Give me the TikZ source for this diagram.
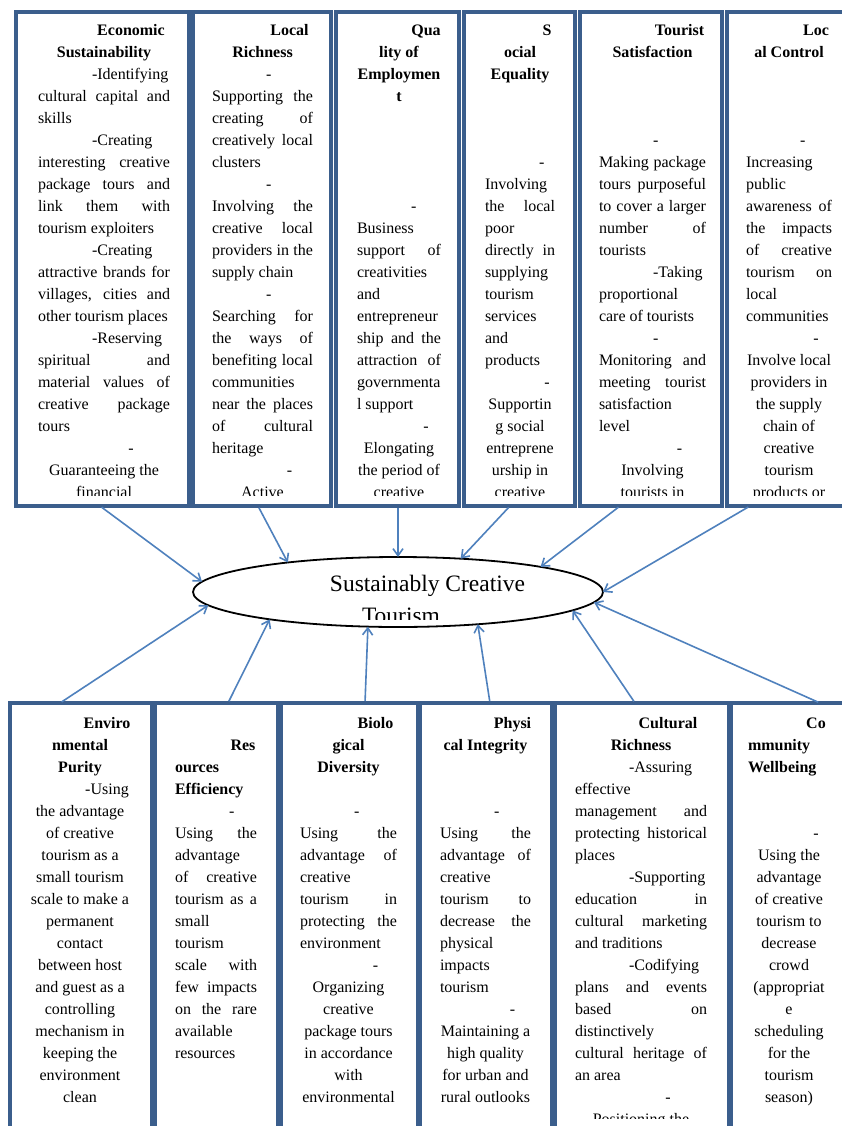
\documentclass[tikz,border=0pt]{standalone}
\usepackage{fontspec}
\setmainfont{Liberation Serif}
\usetikzlibrary{arrows.meta,shapes.geometric}
\definecolor{boxblue}{RGB}{59,94,140}
\definecolor{arrblue}{RGB}{79,129,189}
\newlength\indw \setlength\indw{54pt}
\newcommand\tJ[1]{\makebox[\linewidth][s]{#1}\par}
\newcommand\tL[1]{\makebox[\linewidth][l]{#1}\par}
\newcommand\tC[1]{\makebox[\linewidth][c]{#1}\par}
\newcommand\tI[1]{\makebox[\linewidth][l]{\hspace*{\indw}#1}\par}
\newcommand\tH[1]{\makebox[\linewidth][l]{\hspace*{\indw}\makebox[\dimexpr\linewidth-\indw\relax][c]{#1}}\par}
\newcommand\tE{\mbox{}\par}
\newcommand\coltext[5]{\node[coltxt] (#1) at (#2,#3) {\parbox[t]{#4pt}{\fontsize{16}{22}\selectfont #5}};}
\begin{document}
\begin{tikzpicture}[x=1pt,y=-1pt,
  box/.style={draw=boxblue, line width=3.5pt, fill=white, rectangle, inner sep=0pt, outer sep=0pt, anchor=north west},
  coltxt/.style={anchor=base west, inner sep=0pt, outer sep=0pt},
  arr/.style={draw=arrblue, line width=1.6pt, -{Straight Barb[length=7pt,width=10pt]}, shorten <=2pt}]
\useasboundingbox (0,0) rectangle (841,1126);
\fill[white] (0,0) rectangle (841,1126);

% ---------- top boxes ----------
\node[box, minimum width=173pt, minimum height=494pt] (econ) at (16,12) {};
\node[box, minimum width=138pt, minimum height=494pt] (localr) at (193,12) {};
\node[box, minimum width=123pt, minimum height=494pt] (qual) at (336,12) {};
\node[box, minimum width=111pt, minimum height=494pt] (social) at (464,12) {};
\node[box, minimum width=142pt, minimum height=494pt] (tourist) at (580,12) {};
\node[box, minimum width=130pt, minimum height=494pt] (localc) at (727,12) {};

% ---------- bottom boxes ----------
\node[box, minimum width=142pt, minimum height=440pt] (env) at (10,703) {};
\node[box, minimum width=123pt, minimum height=440pt] (res) at (155,703) {};
\node[box, minimum width=137pt, minimum height=440pt] (bio) at (281,703) {};
\node[box, minimum width=132pt, minimum height=440pt] (phys) at (420,703) {};
\node[box, minimum width=174pt, minimum height=440pt] (cult) at (555,703) {};
\node[box, minimum width=130pt, minimum height=440pt] (comm) at (731,703) {};

% ---------- top texts ----------
\begin{scope}\clip (18,14) rectangle (187,495);
\coltext{t1}{38}{36}{132}{%
\tH{\textbf{Economic}}\tC{\textbf{Sustainability}}
\tI{-Identifying}\tJ{cultural capital and}\tL{skills}
\tI{-Creating}\tJ{interesting creative}\tJ{package tours and}\tJ{link them with}\tL{tourism exploiters}
\tI{-Creating}\tJ{attractive brands for}\tJ{villages, cities and}\tL{other tourism places}
\tI{-Reserving}\tJ{spiritual and}\tJ{material values of}\tJ{creative package}\tL{tours}
\tH{-}\tC{Guaranteeing the}\tC{financial}}
\end{scope}
\begin{scope}\clip (195,14) rectangle (329,495);
\coltext{t2}{212}{36}{101}{%
\tH{\textbf{Local}}\tC{\textbf{Richness}}
\tI{-}\tJ{Supporting the}\tJ{creating of}\tJ{creatively local}\tL{clusters}
\tI{-}\tJ{Involving the}\tJ{creative local}\tJ{providers in the}\tL{supply chain}
\tI{-}\tJ{Searching for}\tJ{the ways of}\tJ{benefiting local}\tL{communities}\tJ{near the places}\tJ{of cultural}\tL{heritage}
\tH{-}\tC{Active}}
\end{scope}
\begin{scope}\clip (338,14) rectangle (457,495);
\coltext{t3}{357}{36}{84}{%
\tH{\textbf{Qua}}\tC{\textbf{lity of}}\tC{\textbf{Employmen}}\tC{\textbf{t}}
\tE\tE\tE\tE
\tI{-}\tL{Business}\tJ{support of}\tL{creativities}\tL{and}\tL{entrepreneur}\tJ{ship and the}\tJ{attraction of}\tL{governmenta}\tL{l support}
\tH{-}\tC{Elongating}\tC{the period of}\tC{creative}}
\end{scope}
\begin{scope}\clip (466,14) rectangle (573,495);
\coltext{t4}{485}{36}{70}{%
\tH{\textbf{S}}\tC{\textbf{ocial}}\tC{\textbf{Equality}}
\tE\tE\tE
\tI{-}\tL{Involving}\tJ{the local}\tL{poor}\tJ{directly in}\tL{supplying}\tL{tourism}\tL{services}\tL{and}\tL{products}
\tH{-}\tC{Supportin}\tC{g social}\tC{entreprene}\tC{urship in}\tC{creative}}
\end{scope}
\begin{scope}\clip (582,14) rectangle (720,495);
\coltext{t5}{599}{36}{107}{%
\tH{\textbf{Tourist}}\tC{\textbf{Satisfaction}}
\tE\tE\tE
\tI{-}\tJ{Making package}\tJ{tours purposeful}\tJ{to cover a larger}\tJ{number of}\tL{tourists}
\tI{-Taking}\tL{proportional}\tL{care of tourists}
\tI{-}\tJ{Monitoring and}\tJ{meeting tourist}\tL{satisfaction}\tL{level}
\tH{-}\tC{Involving}\tC{tourists in}}
\end{scope}
\begin{scope}\clip (729,14) rectangle (841,495);
\coltext{t6}{746}{36}{86}{%
\tH{\textbf{Loc}}\tC{\textbf{al Control}}
\tE\tE\tE
\tI{-}\tL{Increasing}\tL{public}\tJ{awareness of}\tJ{the impacts}\tJ{of creative}\tJ{tourism on}\tL{local}\tL{communities}
\tH{-}\tC{Involve local}\tC{providers in}\tC{the supply}\tC{chain of}\tC{creative}\tC{tourism}\tC{products or}}
\end{scope}

% ---------- bottom texts ----------
\begin{scope}\clip (12,705) rectangle (150,1116);
\coltext{u1}{30}{728}{100}{%
\tH{\textbf{Enviro}}\tC{\textbf{nmental}}\tC{\textbf{Purity}}
\tH{-Using}\tC{the advantage}\tC{of creative}\tC{tourism as a}\tC{small tourism}\tC{scale to make a}\tC{permanent}\tC{contact}\tC{between host}\tC{and guest as a}\tC{controlling}\tC{mechanism in}\tC{keeping the}\tC{environment}\tC{clean}}
\end{scope}
\begin{scope}\clip (157,705) rectangle (276,1116);
\coltext{u2}{175}{728}{82}{%
\tE\tH{\textbf{Res}}\tL{\textbf{ources}}\tL{\textbf{Efficiency}}
\tI{-}\tJ{Using the}\tL{advantage}\tJ{of creative}\tJ{tourism as a}\tL{small}\tL{tourism}\tJ{scale with}\tJ{few impacts}\tJ{on the rare}\tL{available}\tL{resources}}
\end{scope}
\begin{scope}\clip (283,705) rectangle (416,1116);
\coltext{u3}{300}{728}{97}{%
\tH{\textbf{Biolo}}\tC{\textbf{gical}}\tC{\textbf{Diversity}}
\tE
\tI{-}\tJ{Using the}\tJ{advantage of}\tL{creative}\tJ{tourism in}\tJ{protecting the}\tL{environment}
\tH{-}\tC{Organizing}\tC{creative}\tC{package tours}\tC{in accordance}\tC{with}\tC{environmental}}
\end{scope}
\begin{scope}\clip (422,705) rectangle (550,1116);
\coltext{u4}{440}{728}{91}{%
\tH{\textbf{Physi}}\tC{\textbf{cal Integrity}}
\tE\tE
\tI{-}\tJ{Using the}\tJ{advantage of}\tL{creative}\tJ{tourism to}\tJ{decrease the}\tL{physical}\tL{impacts}\tL{tourism}
\tH{-}\tC{Maintaining a}\tC{high quality}\tC{for urban and}\tC{rural outlooks}}
\end{scope}
\begin{scope}\clip (557,705) rectangle (727,1118);
\coltext{u5}{575}{728}{132}{%
\tH{\textbf{Cultural}}\tC{\textbf{Richness}}
\tI{-Assuring}\tL{effective}\tJ{management and}\tJ{protecting historical}\tL{places}
\tI{-Supporting}\tJ{education in}\tJ{cultural marketing}\tL{and traditions}
\tI{-Codifying}\tJ{plans and events}\tJ{based on}\tL{distinctively}\tJ{cultural heritage of}\tL{an area}
\tH{-}\tC{Positioning the}}
\end{scope}
\begin{scope}\clip (733,705) rectangle (841,1116);
\coltext{u6}{748}{728}{82}{%
\tH{\textbf{Co}}\tL{\textbf{mmunity}}\tL{\textbf{Wellbeing}}
\tE\tE
\tH{-}\tC{Using the}\tC{advantage}\tC{of creative}\tC{tourism to}\tC{decrease}\tC{crowd}\tC{(appropriat}\tC{e}\tC{scheduling}\tC{for the}\tC{tourism}\tC{season)}}
\end{scope}

% ---------- central ellipse ----------
\node[draw=black, line width=1.8pt, ellipse, fill=white, inner sep=0pt, outer sep=0pt,
      minimum width=410pt, minimum height=70pt] (ell) at (398,592) {};
\begin{scope}\clip (200,556) rectangle (600,619);
\node[anchor=base, inner sep=0pt] (etitle) at (401,591)
  {\parbox[t]{270pt}{\centering\fontsize{23.5}{32}\selectfont\hspace*{53pt}Sustainably Creative\\Tourism}};
\end{scope}

% ---------- arrows ----------
\draw[arr] ([xshift=84pt]econ.south west) -- (ell.177);
\draw[arr] ([xshift=65pt]localr.south west) -- (ell.165.5);
\draw[arr] ([xshift=62pt]qual.south west) -- (ell.90);
\draw[arr] ([xshift=46pt]social.south west) -- (ell.28.3);
\draw[arr] ([xshift=40pt]tourist.south west) -- (ell.10.1);
\draw[arr] ([xshift=23pt]localc.south west) -- (ell.0.6);
\draw[arr] ([xshift=50pt]env.north west) -- (ell.184);
\draw[arr] ([xshift=73pt]res.north west) -- (ell.192.4);
\draw[arr] ([xshift=84pt]bio.north west) -- (ell.229);
\draw[arr] ([xshift=70pt]phys.north west) -- (ell.338.6);
\draw[arr] ([xshift=80pt]cult.north west) -- (ell.354.3);
\draw[arr] ([xshift=89pt]comm.north west) -- (ell.357.8);
\end{tikzpicture}
\end{document}
